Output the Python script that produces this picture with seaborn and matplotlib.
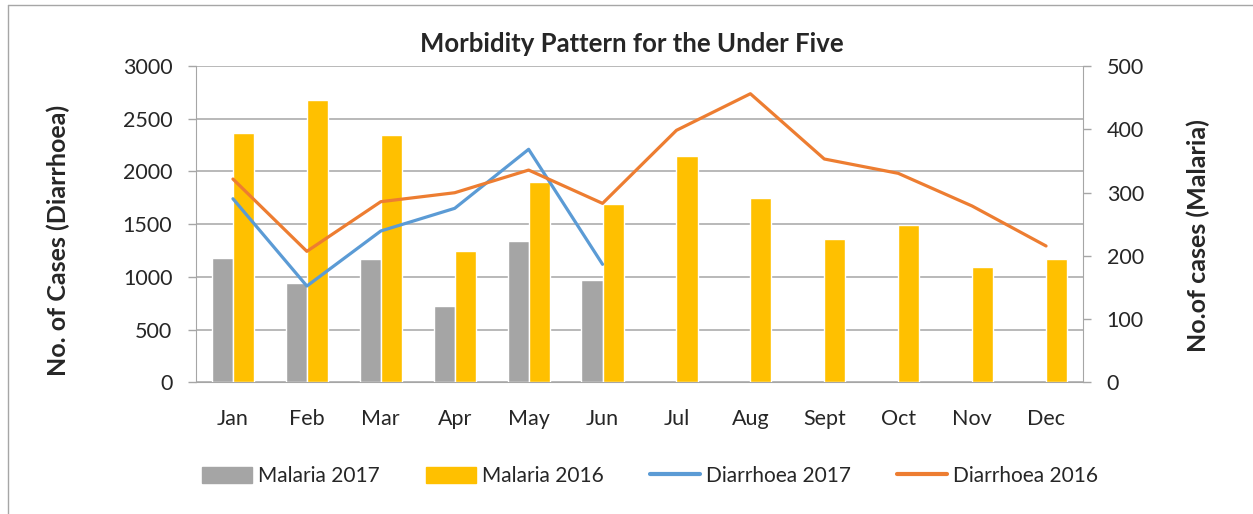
import numpy as np
import pandas as pd
import matplotlib.pyplot as plt
from matplotlib.lines import Line2D
import seaborn as sns

# ---- data ----
months = ["Jan", "Feb", "Mar", "Apr", "May", "Jun",
          "Jul", "Aug", "Sept", "Oct", "Nov", "Dec"]

# Malaria (right axis, 0-500)
malaria_2017 = [197, 157, 195, 121, 223, 162,
                np.nan, np.nan, np.nan, np.nan, np.nan, np.nan]
malaria_2016 = [394, 446, 391, 208, 316, 282, 357, 291, 227, 248, 182, 195]

# Diarrhoea (left axis, 0-3000)
diarrhoea_2017 = [1741, 913, 1435, 1650, 2210, 1119,
                  np.nan, np.nan, np.nan, np.nan, np.nan, np.nan]
diarrhoea_2016 = [1928, 1242, 1713, 1798, 2013, 1697,
                  2390, 2737, 2118, 1982, 1672, 1293]

bar_series = ["Malaria 2017", "Malaria 2016"]
line_series = ["Diarrhoea 2017", "Diarrhoea 2016"]
colors = {"Malaria 2017": "#A5A5A5", "Malaria 2016": "#FFC000",
          "Diarrhoea 2017": "#5B9BD5", "Diarrhoea 2016": "#ED7D31"}

bars = pd.DataFrame({
    "Month": months * 2,
    "Series": [bar_series[0]] * 12 + [bar_series[1]] * 12,
    "Cases": malaria_2017 + malaria_2016,
})
lines = pd.DataFrame({
    "Pos": list(range(len(months))) * 2,
    "Series": [line_series[0]] * 12 + [line_series[1]] * 12,
    "Cases": diarrhoea_2017 + diarrhoea_2016,
})

sns.set_style("white")
plt.rcParams["font.family"] = ["Lato", "DejaVu Sans"]
grey = "#A6A6A6"

fig = plt.figure(figsize=(12.53, 5.14), dpi=100)
ax = fig.add_axes([196 / 1253, 1 - 382.3 / 514, (1083 - 196) / 1253, 316.3 / 514])
ax_bars = ax.twinx()
ax_lines = ax.twinx()

# bars on the malaria scale
sns.barplot(data=bars, x="Month", y="Cases", hue="Series", order=months,
            hue_order=bar_series, palette=colors, width=0.57, saturation=1,
            errorbar=None, legend=False, ax=ax_bars)

# lines on the diarrhoea scale
sns.lineplot(data=lines, x="Pos", y="Cases", hue="Series", hue_order=line_series,
             palette=colors, linewidth=2.3, legend=False, ax=ax_lines)

# left axis (diarrhoea) with the gridlines
ax.set_ylim(0, 3000)
ax.set_yticks(np.arange(0, 3001, 500))
ax.grid(axis="y", color=grey, linewidth=1.1)
ax.set_axisbelow(True)
ax.set_xlim(-0.5, len(months) - 0.5)
ax.set_xticks(range(len(months)))
ax.set_xticklabels(months)
ax.set_xticks(np.arange(-0.5, len(months), 1), minor=True)
ax.tick_params(axis="x", which="major", length=0, pad=19, labelsize=15.5)
ax.tick_params(axis="x", which="minor", length=6, width=1, color=grey, direction="out")
ax.tick_params(axis="y", length=6, width=1, color=grey, direction="out",
               pad=11, labelsize=15.5, left=True)
ax.set_xlabel("")
ax.set_ylabel("")
for side in ["top", "right"]:
    ax.spines[side].set_visible(False)
for side in ["left", "bottom"]:
    ax.spines[side].set_color(grey)

# right axis (malaria)
ax_bars.set_ylim(0, 500)
ax_bars.set_yticks(np.arange(0, 501, 100))
ax_bars.tick_params(axis="y", length=6, width=1, color=grey, direction="out",
                    pad=11, labelsize=15.5, right=True)
ax_bars.set_xlabel("")
ax_bars.set_ylabel("")
for side in ["top", "left", "bottom"]:
    ax_bars.spines[side].set_visible(False)
ax_bars.spines["right"].set_color(grey)

ax_lines.set_ylim(0, 3000)
ax_lines.yaxis.set_visible(False)
for s in ax_lines.spines.values():
    s.set_visible(False)
ax_lines.set_xlim(-0.5, len(months) - 0.5)

# titles and axis labels
fig.text(631.5 / 1253, 1 - 44 / 514, "Morbidity Pattern for the Under Five",
         ha="center", va="center", fontsize=18.5, fontweight="bold")
fig.text(58 / 1253, 1 - 240 / 514, "No. of Cases (Diarrhoea)", rotation=90,
         ha="center", va="center", fontsize=18, fontweight="bold")
fig.text(1198 / 1253, 1 - 236 / 514, "No.of cases (Malaria)", rotation=90,
         ha="center", va="center", fontsize=18, fontweight="bold")

# legend along the bottom
handles = [plt.Rectangle((0, 0), 1, 1, color=colors[s]) for s in bar_series]
handles += [Line2D([0], [0], color=colors[s], linewidth=3) for s in line_series]
fig.legend(handles, bar_series + line_series, loc="center",
           bbox_to_anchor=(650 / 1253, 1 - 476 / 514), ncol=4, frameon=False,
           fontsize=15, handlelength=2.4, handleheight=0.8, handletextpad=0.3,
           columnspacing=2.2)

# chart-area border (left and top edges visible)
fig.add_artist(Line2D([8 / 1253, 8 / 1253], [0, 1 - 5 / 514], color=grey, linewidth=1))
fig.add_artist(Line2D([8 / 1253, 1], [1 - 5 / 514, 1 - 5 / 514], color=grey, linewidth=1))

fig.savefig("out.png", dpi=100)
